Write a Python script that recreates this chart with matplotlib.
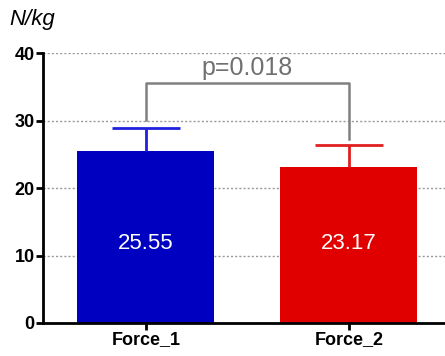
import matplotlib
matplotlib.use('Agg')
import matplotlib.pyplot as plt

# ── Data ───────────────────────────────────────────────────────────────────────
categories = ['Force_1', 'Force_2']
means      = [25.55, 23.17]
errors     = [3.3, 3.2]
colors     = ['#0000c0', '#e00000']
err_colors = ['#2020e0', '#e02020']
p_text     = 'p=0.018'
bracket_y  = 35.6
bracket_legs = [30.1, 27.3]

plt.rcParams['font.family'] = ['Liberation Sans', 'DejaVu Sans']

fig = plt.figure(figsize=(4.45, 3.56), dpi=100)
ax = fig.add_axes([0.0966, 0.0927, 0.9034, 0.7583])

x = list(range(len(categories)))
ax.bar(x, means, width=0.675, color=colors, zorder=2)
# one-sided (upper) error bars, cap only at the top
for xi, m, e, c in zip(x, means, errors, err_colors):
    ax.vlines(xi, m, m + e, color=c, lw=2, zorder=3)
    ax.hlines(m + e, xi - 0.168, xi + 0.168, color=c, lw=2, zorder=3)
    ax.text(xi, 11.8, f'{m:.2f}', color='white', ha='center', va='center',
            fontsize=16, zorder=4)

# significance bracket
ax.plot([0, 0, 1, 1], [bracket_legs[0], bracket_y, bracket_y, bracket_legs[1]],
        color='#808080', lw=1.8, zorder=3, clip_on=False)
ax.text(0.5, bracket_y + 0.4, p_text, ha='center', va='bottom', color='#707070',
        fontsize=18)

ax.set_xlim(-0.507, 1.473)
ax.set_ylim(0, 40)
ax.set_yticks([0, 10, 20, 30, 40])
ax.set_xticks(x)
ax.set_xticklabels(categories, fontweight='bold', fontsize=13)
for lbl in ax.get_yticklabels():
    lbl.set_fontweight('bold')
    lbl.set_fontsize(13)
ax.tick_params(axis='both', width=2, length=5, pad=1)
ax.grid(axis='y', color='#999999', linestyle=(0, (1.5, 1.5)), linewidth=1, zorder=0)
ax.set_axisbelow(True)

for s in ['top', 'right']:
    ax.spines[s].set_visible(False)
for s in ['left', 'bottom']:
    ax.spines[s].set_linewidth(2)

fig.text(0.022, 0.945, 'N/kg', fontstyle='italic', fontsize=16, ha='left', va='center')

fig.savefig('out.png', dpi=100)
